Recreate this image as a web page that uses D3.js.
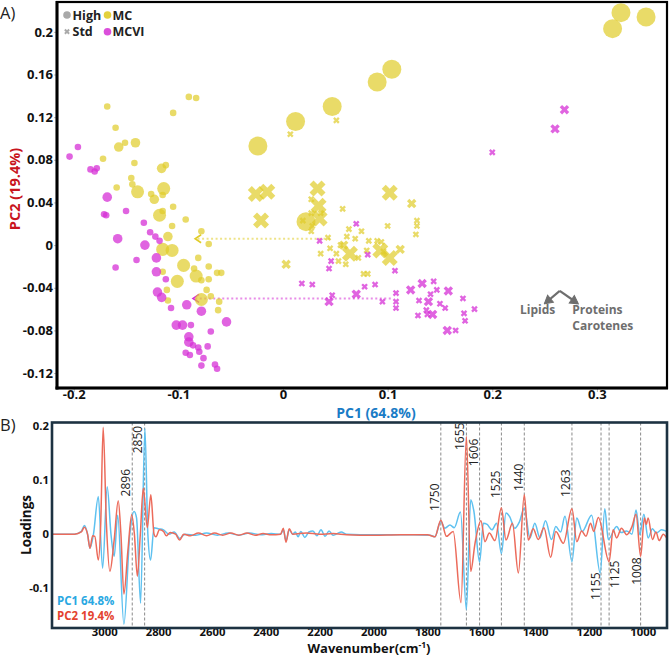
<!DOCTYPE html>
<html><head><meta charset="utf-8">
<script src="https://cdn.jsdelivr.net/npm/d3@7"></script>
<style>body{margin:0;background:#fff;} svg{display:block;font-family:"Open Sans","Noto Sans",sans-serif;}</style>
</head><body><svg id="c" width="669" height="657"></svg>
<script>
// ---------------- DATA ----------------
// Panel A: [PC1, PC2, sizeClass]
const mcHigh = [
[-0.168,0.130,1],[-0.090,0.139,1],[-0.083,0.138,1],[-0.105,0.124,1],[-0.160,0.110,1],[-0.157,0.092,2],[-0.151,0.096,1],[-0.141,0.096,2],[-0.172,0.081,1],[-0.142,0.077,1],[-0.116,0.072,2],[-0.112,0.075,1],[-0.145,0.063,1],[-0.144,0.057,1],[-0.159,0.054,1],[-0.139,0.050,3],[-0.114,0.053,3],[-0.126,0.048,1],[-0.115,0.047,1],[-0.123,0.043,2],[-0.105,0.036,1],[-0.115,0.032,1],[-0.118,0.028,3],[-0.093,0.024,1],[-0.106,0.018,1],[-0.110,0.008,2],[-0.078,0.013,1],[-0.071,0.001,1],[-0.115,-0.004,3],[-0.106,-0.005,3],[-0.081,-0.012,1],[-0.095,-0.019,3],[-0.085,-0.022,1],[-0.071,-0.020,1],[-0.115,-0.025,1],[-0.083,-0.029,3],[-0.071,-0.032,1],[-0.078,-0.033,1],[-0.101,-0.034,3],[-0.063,-0.026,1],[-0.059,-0.026,1],[-0.073,-0.042,1],[-0.111,-0.042,1],[-0.110,-0.052,1],[-0.078,-0.051,3],[-0.069,-0.048,1],[-0.061,-0.053,1],[-0.062,-0.061,1],
[-0.024,0.093,4],[0.012,0.116,4],[0.047,0.130,4],[0.022,0.022,4],[0.090,0.153,4],[0.104,0.165,4],[0.323,0.218,4],[0.315,0.203,4],[0.347,0.214,4]
];
const mcviHigh = [
[-0.204,0.083,1],[-0.196,0.092,1],[-0.184,0.071,1],[-0.180,0.069,1],[-0.178,0.072,1],[-0.168,0.045,2],[-0.171,0.029,1],[-0.169,0.028,1],[-0.150,0.032,1],[-0.133,0.021,1],[-0.127,0.012,1],[-0.122,0.008,1],[-0.118,0.004,1],[-0.158,0.006,2],[-0.132,0.000,2],[-0.140,-0.014,1],[-0.160,-0.021,1],[-0.121,-0.012,2],[-0.121,-0.025,2],[-0.112,-0.032,1],[-0.120,-0.044,2],[-0.116,-0.049,2],[-0.107,-0.059,1],[-0.092,-0.056,2],[-0.078,-0.062,2],[-0.054,-0.072,2],[-0.102,-0.075,2],[-0.096,-0.075,2],[-0.088,-0.075,1],[-0.069,-0.081,1],[-0.090,-0.086,2],[-0.090,-0.091,2],[-0.086,-0.094,1],[-0.081,-0.096,1],[-0.072,-0.095,1],[-0.093,-0.101,1],[-0.089,-0.103,1],[-0.080,-0.100,1],[-0.076,-0.106,1],[-0.078,-0.113,1],[-0.065,-0.112,1],[-0.063,-0.116,1]
];
const mcStd = [
[-0.026,0.048,3],[-0.015,0.050,3],[-0.021,0.023,3],[0.033,0.053,3],[0.034,0.037,3],[0.035,0.025,3],[0.003,-0.018,2],[0.102,0.049,3],[0.123,0.039,2],[0.064,-0.008,3],[0.093,-0.005,3],[0.102,-0.012,3],[0.112,-0.004,2],[0.058,0.000,2],
[0.007,0.104,1],[0.051,0.117,1],[0.019,0.023,1],[0.028,0.018,1],[0.027,0.013,1],[0.043,0.007,1],[0.057,0.034,1],[0.100,0.018,1],[0.128,0.023,1],[0.128,0.018,1],[0.127,0.010,1],[0.063,0.015,1],[0.075,0.013,1],[0.061,0.008,1],[0.069,0.006,1],[0.082,0.004,1],[0.090,0.004,1],[0.045,-0.003,1],[0.036,-0.008,1],[0.051,-0.008,1],[0.053,-0.015,1],[0.060,-0.018,1],[0.077,-0.027,1],[0.081,-0.027,1],[0.055,0.000,1],[0.080,-0.005,1],[0.094,0.003,1],[0.096,-0.006,1],[0.072,-0.012,1],[0.027,0.043,1],[0.027,0.030,1],[0.036,0.030,1]
];
const mcviStd = [
[0.070,0.020,1],[0.035,0.004,1],[0.046,-0.015,1],[0.044,-0.022,1],[0.081,-0.009,1],[0.107,-0.024,1],[0.018,-0.036,1],[0.028,-0.037,1],[0.078,-0.039,1],[0.088,-0.037,1],[0.122,-0.042,2],[0.133,-0.036,2],[0.144,-0.034,1],[0.147,-0.042,1],[0.158,-0.043,2],[0.141,-0.046,1],[0.108,-0.045,1],[0.108,-0.053,1],[0.108,-0.059,1],[0.095,-0.053,1],[0.070,-0.046,2],[0.047,-0.047,1],[0.044,-0.053,2],[0.130,-0.052,1],[0.139,-0.053,2],[0.150,-0.055,1],[0.155,-0.059,1],[0.172,-0.050,1],[0.183,-0.060,1],[0.173,-0.064,1],[0.174,-0.071,1],[0.129,-0.066,1],[0.137,-0.061,1],[0.138,-0.065,1],[0.143,-0.065,2],[0.157,-0.080,2],[0.165,-0.080,1],[0.200,0.087,1],[0.260,0.109,2],[0.269,0.127,2]
];
// group shift arrows (from Std to High), [PC1, PC2]
const shiftMC = [[0.045,0.006],[-0.084,0.006]];
const shiftMCVI = [[0.103,-0.050],[-0.086,-0.050]];
const pc1Ticks = [-0.2,-0.1,0,0.1,0.2,0.3];
const pc2Ticks = [-0.12,-0.08,-0.04,0,0.04,0.08,0.12,0.16,0.2];

// Panel B: [wavenumber, loading]
const pc1Loadings = [
[3194,0],[3110,0],[3085,0.005],[3074,0.016],[3062,0],[3053,-0.026],[3040,0],[3022,0.07],[3006,-0.063],[2989,0.088],[2975,0],[2963,-0.041],[2950,0.035],[2927,-0.167],[2905,0],[2889,0.042],[2880,0.03],[2865,-0.128],[2849,0.196],[2838,0],[2828,-0.048],[2815,0.012],[2800,0.01],[2780,0.008],[2760,0],[2740,0.004],[2720,-0.008],[2700,0],[2660,-0.002],[2620,0.002],[2580,-0.002],[2540,0.002],[2500,-0.002],[2460,0.002],[2420,-0.001],[2380,0.001],[2345,0],[2335,0.008],[2325,-0.012],[2313,0.008],[2300,0],[2290,0.004],[2280,-0.005],[2270,0.005],[2255,-0.006],[2240,0.004],[2225,0.006],[2210,-0.003],[2195,0.008],[2180,-0.004],[2165,0.006],[2150,-0.002],[2120,0.004],[2100,0],[2000,-0.001],[1850,-0.001],[1790,-0.002],[1772,-0.005],[1750,0.024],[1735,0.011],[1716,0.017],[1700,0.012],[1677,0.041],[1655,-0.14],[1639,0.064],[1627,0.042],[1606,-0.052],[1592,0.02],[1578,0.018],[1560,0.008],[1543,0.02],[1525,-0.036],[1508,0.039],[1495,0.033],[1475,0.011],[1458,0.023],[1440,0.048],[1419,-0.007],[1401,0.02],[1382,-0.007],[1361,0.025],[1339,-0.01],[1323,0.014],[1305,0.004],[1289,0.033],[1263,-0.051],[1245,0.03],[1225,0.005],[1190,0.035],[1158,-0.072],[1141,0.047],[1128,-0.01],[1097,0.014],[1080,0.003],[1060,0.006],[1040,0],[1025,0.045],[1011,-0.001],[996,0.037],[980,-0.007],[964,0.01],[950,0.002],[930,0.008],[910,0.005]
];
const pc2Loadings = [
[3194,0],[3110,0],[3085,0.004],[3074,0.013],[3062,0],[3053,-0.026],[3043,-0.003],[3035,-0.004],[3022,-0.048],[3013,0.02],[3004,0.198],[2992,0.02],[2979,-0.069],[2963,-0.01],[2948,0.062],[2938,0],[2927,-0.111],[2912,-0.03],[2898,0.036],[2888,0],[2877,-0.078],[2866,0],[2855,0.085],[2840,0.012],[2827,0.073],[2815,0],[2808,-0.005],[2795,0.008],[2780,0.005],[2770,-0.003],[2755,0.003],[2735,0],[2720,-0.011],[2705,0],[2680,-0.003],[2650,0.002],[2620,-0.003],[2590,0.002],[2560,-0.002],[2530,0.002],[2500,-0.002],[2470,0.002],[2440,-0.002],[2410,0.001],[2380,-0.001],[2345,0],[2335,0.011],[2325,-0.015],[2313,0.01],[2300,0],[2250,0.002],[2200,0],[2150,0.001],[2100,-0.001],[2000,-0.002],[1900,-0.001],[1800,-0.001],[1772,-0.005],[1750,0.026],[1729,-0.004],[1704,0.005],[1675,-0.127],[1655,0.181],[1639,-0.069],[1623,-0.017],[1601,0.025],[1586,-0.014],[1570,0.002],[1549,-0.012],[1525,0.049],[1508,-0.011],[1484,0.02],[1462,-0.072],[1440,0.073],[1425,-0.011],[1407,0.01],[1388,-0.01],[1367,0.012],[1342,-0.043],[1323,0.005],[1295,-0.017],[1263,0.047],[1245,-0.014],[1227,0.006],[1211,-0.004],[1194,0.02],[1182,0.005],[1165,0.031],[1125,-0.051],[1110,0.008],[1097,-0.007],[1079,0.011],[1060,-0.001],[1040,0.014],[1025,0.037],[1008,-0.041],[994,0.03],[987,0.018],[980,0.03],[964,-0.01],[951,0.004],[939,-0.012],[924,0],[910,-0.008]
];
const bands = [2896,2850,1750,1655,1606,1525,1440,1263,1155,1125,1008];
const wnTicks = [3000,2800,2600,2400,2200,2000,1800,1600,1400,1200,1000];
const loadTicks = [-0.1,0,0.1,0.2];

// ---------------- DRAW ----------------
const svg = d3.select("#c");
const YEL = "#e0cc28", MAG = "#d530d5";
const fmt = d => String(+d.toFixed(2));

// Panel A
const xa = d3.scaleLinear().domain([-0.216,0.367]).range([57,667]);
const ya = d3.scaleLinear().domain([-0.134,0.228]).range([388,2]);
const A = svg.append("g");

const defs = svg.append("defs");
[["arrY",YEL],["arrM",MAG],["arrG","#6e6e6e"]].forEach(([id,c])=>{
  defs.append("marker").attr("id",id).attr("viewBox","-8 -6 10 12").attr("refX",0).attr("refY",0)
    .attr("markerWidth",10).attr("markerHeight",12).attr("markerUnits","userSpaceOnUse").attr("orient","auto")
    .append("path").attr("d", id==="arrG" ? "M-7,-4.5L1,0L-7,4.5Z" : "M-6,-4L0,0L-6,4")
    .attr("fill", id==="arrG" ? c : "none").attr("stroke",c).attr("stroke-width",id==="arrG"?1:1.6);
});

const gx = A.append("g").attr("transform","translate(0,388)")
  .call(d3.axisBottom(xa).tickValues(pc1Ticks).tickFormat(fmt).tickSize(4).tickPadding(-2));
const gy = A.append("g").attr("transform","translate(57,0)")
  .call(d3.axisLeft(ya).tickValues(pc2Ticks).tickFormat(fmt).tickSize(3).tickPadding(1));
[gx,gy].forEach(g=>{
  g.select(".domain").remove();
  g.selectAll("line").attr("stroke","#bbb");
  g.selectAll("text").attr("font-size",13).attr("font-weight",700).attr("fill","#111")
   .attr("font-family",'"Open Sans","Noto Sans",sans-serif');
});

// shift arrows
const ln = d3.line().x(d=>xa(d[0])).y(d=>ya(d[1]));
A.append("path").attr("d",ln(shiftMC)).attr("stroke",YEL).attr("stroke-opacity",0.55).attr("stroke-width",2)
  .attr("stroke-dasharray","2,2.5").attr("fill","none").attr("marker-end","url(#arrY)");
A.append("path").attr("d",ln(shiftMCVI)).attr("stroke",MAG).attr("stroke-opacity",0.55).attr("stroke-width",2)
  .attr("stroke-dasharray","2,2.5").attr("fill","none").attr("marker-end","url(#arrM)");

const areaC = {1:34,2:72,3:133,4:283};
const areaX = {1:27,2:56,3:160};
const circ = d3.symbol().type(d3.symbolCircle);
const cross = d3.symbol().type(d3.symbolCross);
function dots(data,color,op){
  A.append("g").selectAll("path").data(data).join("path")
   .attr("d",d=>circ.size(areaC[d[2]])())
   .attr("transform",d=>`translate(${xa(d[0])},${ya(d[1])})`)
   .attr("fill",color).attr("fill-opacity",op);
}
function xs(data,color,op){
  A.append("g").selectAll("path").data(data).join("path")
   .attr("d",d=>cross.size(areaX[d[2]])())
   .attr("transform",d=>`translate(${xa(d[0])},${ya(d[1])}) rotate(45)`)
   .attr("fill",color).attr("fill-opacity",op);
}
dots(mcHigh,YEL,0.7);
dots(mcviHigh,MAG,0.75);
xs(mcStd,YEL,0.7);
xs(mcviStd,MAG,0.75);

// frame + thick axes
A.append("rect").attr("x",57).attr("y",2).attr("width",610).attr("height",386)
  .attr("fill","none").attr("stroke","#000").attr("stroke-width",2.2);
A.append("line").attr("x1",57).attr("x2",57).attr("y1",1).attr("y2",389.5).attr("stroke","#000").attr("stroke-width",3);
A.append("line").attr("x1",55.5).attr("x2",668).attr("y1",388).attr("y2",388).attr("stroke","#000").attr("stroke-width",3);

// legend
const lg = A.append("g").attr("font-size",12.5).attr("font-weight",700).attr("fill","#222");
lg.append("circle").attr("cx",67).attr("cy",15).attr("r",3.8).attr("fill","#a9a9a9");
lg.append("text").attr("x",72.5).attr("y",19.5).text("High");
lg.append("circle").attr("cx",107.5).attr("cy",15).attr("r",3.8).attr("fill",YEL).attr("fill-opacity",0.9);
lg.append("text").attr("x",112.5).attr("y",19.5).text("MC");
lg.append("path").attr("d",cross.size(20)()).attr("transform","translate(67,31.7) rotate(45)").attr("fill","#a9a9a9");
lg.append("text").attr("x",72.5).attr("y",36).text("Std");
lg.append("circle").attr("cx",107.5).attr("cy",31.7).attr("r",3.8).attr("fill",MAG).attr("fill-opacity",0.85);
lg.append("text").attr("x",112.5).attr("y",36).text("MCVI");

// lipids / proteins annotation
const an = A.append("g").attr("fill","#6e6e6e").attr("font-size",12).attr("font-weight",700);
const apex = [xa(0.2645), ya(-0.043)];
an.append("path").attr("d",`M${apex[0]},${apex[1]}L${xa(0.2505)},${ya(-0.0545)}`).attr("stroke","#6e6e6e").attr("stroke-width",2.2).attr("fill","none").attr("marker-end","url(#arrG)");
an.append("path").attr("d",`M${apex[0]},${apex[1]}L${xa(0.2815)},${ya(-0.0545)}`).attr("stroke","#6e6e6e").attr("stroke-width",2.2).attr("fill","none").attr("marker-end","url(#arrG)");
an.append("text").attr("x",xa(0.2265)).attr("y",ya(-0.065)).text("Lipids");
an.append("text").attr("x",xa(0.2765)).attr("y",ya(-0.065)).text("Proteins");
an.append("text").attr("x",xa(0.2765)).attr("y",ya(-0.0795)).text("Carotenes");

// axis titles panel A
svg.append("text").attr("x",376).attr("y",418).attr("text-anchor","middle").attr("font-size",14).attr("font-weight",700)
  .attr("fill","#1a7cc6").text("PC1 (64.8%)");
svg.append("text").attr("transform","translate(20,189) rotate(-90)").attr("text-anchor","middle").attr("font-size",14.5).attr("font-weight",700)
  .attr("fill","#c8141e").text("PC2 (19.4%)");
svg.append("text").attr("x",0).attr("y",19).attr("font-size",16.5).attr("fill","#222").text("A)");
svg.append("text").attr("x",0).attr("y",431).attr("font-size",16.5).attr("fill","#222").text("B)");

// Panel B
const xb = d3.scaleLinear().domain([3194,910]).range([52,667]);
const yb = d3.scaleLinear().domain([-0.174,0.207]).range([628,422.5]);
const B = svg.append("g");
defs.append("clipPath").attr("id","clipB").append("rect").attr("x",52).attr("y",422.5).attr("width",615).attr("height",205.5);

const gbx = B.append("g").attr("transform","translate(0,628)")
  .call(d3.axisBottom(xb).tickValues(wnTicks).tickSize(0).tickPadding(0).tickFormat(d3.format("d")));
const gby = B.append("g").attr("transform","translate(52,0)")
  .call(d3.axisLeft(yb).tickValues(loadTicks).tickSize(0).tickPadding(3).tickFormat(fmt));
[gbx,gby].forEach(g=>{
  g.select(".domain").remove();
  g.selectAll("text").attr("font-size",11.3).attr("font-weight",700).attr("fill","#111")
   .attr("font-family",'"Open Sans","Noto Sans",sans-serif');
});

// dashed band lines
B.append("g").selectAll("line").data(bands).join("line")
  .attr("x1",d=>xb(d)).attr("x2",d=>xb(d)).attr("y1",422.5).attr("y2",628)
  .attr("stroke","#8a8a8a").attr("stroke-width",1).attr("stroke-dasharray","3,2");

const curve = d3.line().x(d=>xb(d[0])).y(d=>yb(d[1])).curve(d3.curveMonotoneX);
const cg = B.append("g").attr("clip-path","url(#clipB)");
cg.append("path").attr("d",curve(pc1Loadings)).attr("fill","none").attr("stroke","#5ec1f0").attr("stroke-width",1.5);
cg.append("path").attr("d",curve(pc2Loadings)).attr("fill","none").attr("stroke","#ec6b5b").attr("stroke-width",1.5);

// band labels (layout: label bottom position in loading units, x offset px)
const bandLabel = {2896:[0.070,-2.5],2850:[0.150,-2.5],1750:[0.043,-2],1655:[0.156,-2.5],1606:[0.126,-1.5],1525:[0.067,-1.5],
  1440:[0.080,-1.5],1263:[0.069,-2],1155:[-0.122,-1],1125:[-0.100,10],1008:[-0.094,0]};
B.append("g").selectAll("text").data(bands).join("text")
  .attr("transform",d=>`translate(${xb(d)+bandLabel[d][1]},${yb(bandLabel[d][0])}) rotate(-90)`)
  .attr("font-size",12).attr("fill","#222").text(d=>d);

B.append("rect").attr("x",52).attr("y",422.5).attr("width",615).attr("height",205.5)
  .attr("fill","none").attr("stroke","#1d3242").attr("stroke-width",2.6);

B.append("text").attr("x",57).attr("y",604.5).attr("font-size",11.5).attr("font-weight",700).attr("fill","#29a8e2").text("PC1 64.8%");
B.append("text").attr("x",57).attr("y",620.3).attr("font-size",11.5).attr("font-weight",700).attr("fill","#e4432f").text("PC2 19.4%");

svg.append("text").attr("transform","translate(31,525) rotate(-90)").attr("text-anchor","middle")
  .attr("font-size",13.5).attr("font-weight",700).attr("fill","#111").text("Loadings");
const wl = svg.append("text").attr("x",369).attr("y",653).attr("text-anchor","middle")
  .attr("font-size",13).attr("font-weight",700).attr("fill","#111");
wl.append("tspan").text("Wavenumber(cm");
wl.append("tspan").attr("font-size",8.5).attr("dy",-5).text("-1");
wl.append("tspan").attr("dy",5).text(")");
</script></body></html>
